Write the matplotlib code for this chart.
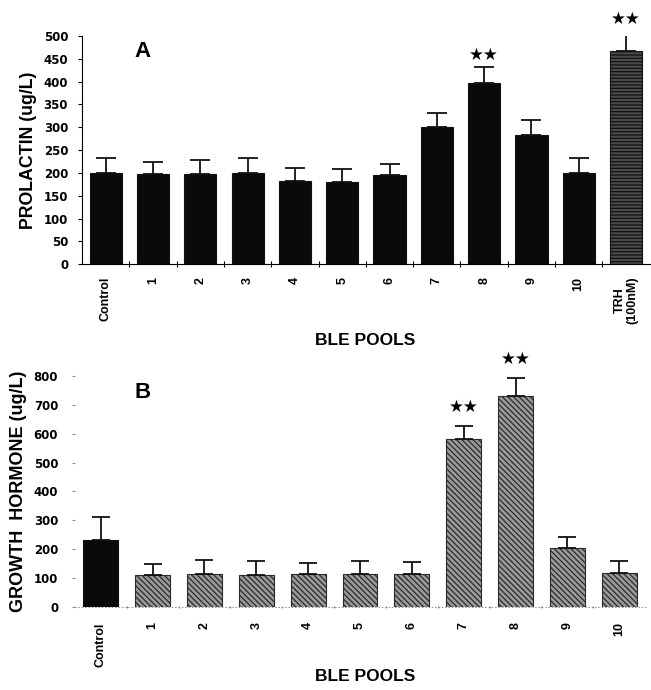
import matplotlib
matplotlib.use("Agg")
import matplotlib.pyplot as plt
import numpy as np

plt.rcParams['font.family'] = ['Liberation Sans', 'DejaVu Sans']
plt.rcParams['hatch.linewidth'] = 0.9

# Panel A data
cats_a = ["Control", "1", "2", "3", "4", "5", "6", "7", "8", "9", "10", "TRH\n(100nM)"]
prl_mean = [200, 197, 198, 200, 182, 180, 195, 300, 397, 283, 200, 467]
prl_err = [33, 27, 30, 33, 28, 28, 24, 31, 35, 33, 32, 44]
prl_sig = [8, 11]

# Panel B data
cats_b = ["Control", "1", "2", "3", "4", "5", "6", "7", "8", "9", "10"]
gh_mean = [231, 111, 114, 112, 113, 113, 115, 581, 730, 206, 118]
gh_err = [80, 38, 49, 49, 39, 45, 40, 45, 62, 37, 43]
gh_sig = [7, 8]

fig = plt.figure(figsize=(6.51, 6.90), dpi=100)

# ---------- Panel A ----------
axA = fig.add_axes([0.126, 0.617, 0.872, 0.331])
xa = np.arange(len(cats_a))
colors_a = ['#0a0a0a'] * (len(cats_a) - 1) + ['#4a4a4a']
hatches_a = [None] * (len(cats_a) - 1) + ['-----']
for i in range(len(cats_a)):
    axA.bar(xa[i], prl_mean[i], width=0.68, color=colors_a[i], edgecolor='#111111',
            hatch=hatches_a[i], linewidth=0.8, zorder=2)
axA.errorbar(xa, prl_mean, yerr=[np.zeros(len(prl_err)), prl_err], fmt='none',
             ecolor='#111111', elinewidth=1.3, capsize=7, capthick=1.3, zorder=3)
for i in prl_sig:
    axA.text(xa[i], prl_mean[i] + prl_err[i] + 6, "★★", ha='center', va='bottom',
             fontsize=12, family=['DejaVu Sans'], clip_on=False)
axA.set_xlim(-0.5, 11.5)
axA.set_ylim(0, 500)
axA.set_yticks(np.arange(0, 501, 50))
axA.set_yticklabels([str(v) for v in range(0, 501, 50)], fontsize=8.5,
                    fontweight='bold', family=['DejaVu Sans'])
axA.set_xticks(xa)
axA.set_xticklabels(cats_a, rotation=90, fontsize=9, fontweight='bold', linespacing=1.0)
axA.set_xticks(np.arange(0.5, 11.5, 1), minor=True)
axA.tick_params(axis='x', which='major', length=0, pad=9)
axA.tick_params(axis='x', which='minor', length=5, direction='inout', width=0.8)
axA.tick_params(axis='y', length=3, width=0.8, pad=7)
axA.spines['top'].set_visible(False)
axA.spines['right'].set_visible(False)
axA.spines['left'].set_linewidth(0.8)
axA.spines['bottom'].set_linewidth(0.8)
axA.set_ylabel("PROLACTIN (ug/L)", fontsize=12.8, fontweight='bold', labelpad=5)
axA.text(0.107, 0.93, "A", transform=axA.transAxes, fontsize=16, fontweight='bold',
         ha='center', va='center')
fig.text(0.561, 0.506, "BLE POOLS", ha='center', va='center', fontsize=12.5, fontweight='bold')

# ---------- Panel B ----------
axB = fig.add_axes([0.115, 0.1203, 0.880, 0.3348])
xb = np.arange(len(cats_b))
for i in range(len(cats_b)):
    if i == 0:
        axB.bar(xb[i], gh_mean[i], width=0.67, color='#0a0a0a', edgecolor='#111111',
                linewidth=0.8, zorder=2)
    else:
        axB.bar(xb[i], gh_mean[i], width=0.67, color='#9a9a9a', edgecolor='#2a2a2a',
                hatch='\\\\\\\\\\\\', linewidth=0.8, zorder=2)
axB.errorbar(xb, gh_mean, yerr=[np.zeros(len(gh_err)), gh_err], fmt='none',
             ecolor='#111111', elinewidth=1.3, capsize=6.5, capthick=1.3, zorder=3)
for i in gh_sig:
    axB.text(xb[i], gh_mean[i] + gh_err[i] + 35, "★★", ha='center', va='bottom',
             fontsize=12, family=['DejaVu Sans'], clip_on=False)
axB.set_xlim(-0.5, 10.55)
axB.set_ylim(0, 800)
axB.set_yticks(np.arange(0, 801, 100))
axB.set_yticklabels([str(v) for v in range(0, 801, 100)], fontsize=8.5,
                    fontweight='bold', family=['DejaVu Sans'])
axB.set_xticks(xb)
axB.set_xticklabels(cats_b, rotation=90, fontsize=9, fontweight='bold')
axB.set_xticks(np.arange(0.5, 10.5, 1), minor=True)
axB.tick_params(axis='x', which='major', length=0, pad=11)
axB.tick_params(axis='x', which='minor', length=2, direction='inout', width=0.8, color='#777777')
axB.tick_params(axis='y', length=2, width=0.8, pad=10, color='#888888')
axB.spines['top'].set_visible(False)
axB.spines['right'].set_visible(False)
axB.spines['left'].set_visible(False)
axB.spines['bottom'].set_linestyle((0, (1, 3)))
axB.spines['bottom'].set_color('#888888')
axB.spines['bottom'].set_linewidth(0.6)
axB.set_ylabel("GROWTH  HORMONE (ug/L)", fontsize=13, fontweight='bold', labelpad=5)
axB.text(0.119, 0.93, "B", transform=axB.transAxes, fontsize=16, fontweight='bold',
         ha='center', va='center')
fig.text(0.561, 0.019, "BLE POOLS", ha='center', va='center', fontsize=12.5, fontweight='bold')

fig.savefig("out.png", dpi=100)
